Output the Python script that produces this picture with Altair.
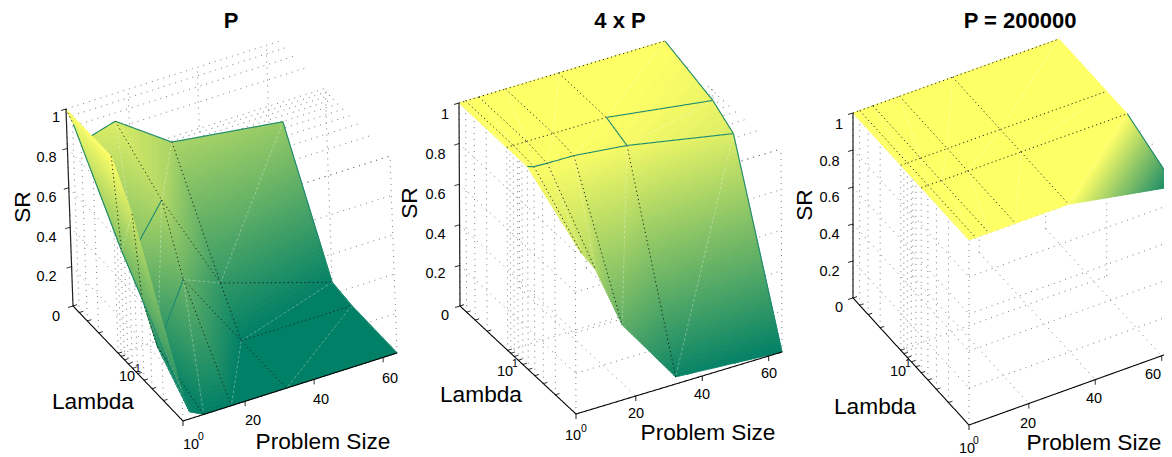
import math
import altair as alt

# ---------- data ----------
SIZES = [2, 4, 8, 16, 32, 64]
LAMBDAS = [50, 10, 5, 1]          # far row first
SIZE_TICKS = [20, 40, 60]
LAMBDA_TICKS = [1, 2, 3, 4, 5, 6, 7, 8, 9, 10, 20, 30, 40, 50]
SR_TICKS = [0, 0.2, 0.4, 0.6, 0.8, 1]
SR_LABELS = ["0", "0.2", "0.4", "0.6", "0.8", "1"]
TITLES = ["P", "4 x P", "P = 200000"]

SR_P = [
    [1.00, 0.91, 0.82, 0.86, 0.665, 0.59],
    [1.00, 0.51, 0.50, 0.70, 0.19, 0.015],
    [0.81, 0.37, 0.10, 0.40, 0.00, 0.00],
    [0.15, 0.035, 0.00, 0.00, 0.00, 0.00],
]
SR_4P = [
    [1.00, 1.00, 1.00, 1.00, 1.00, 1.00],
    [1.00, 1.00, 1.00, 1.00, 1.00, 0.926],
    [1.00, 0.99, 0.987, 0.985, 0.956, 0.857],
    [0.84, 0.78, 0.685, 0.37, 0.035, 0.00],
]
SR_200K = [
    [1.00, 1.00, 1.00, 1.00, 1.00, 1.00],
    [1.00, 1.00, 1.00, 1.00, 1.00, 1.00],
    [1.00, 1.00, 1.00, 1.00, 1.00, 1.00],
    [1.00, 1.00, 1.00, 1.00, 1.00, 0.89],
]

# ---------- view geometry of each 3-D box (page pixels) ----------
VIEWS = [
    dict(front=(183, 421), left=(73, 306), right=(397, 353), up=(-7, -197),
         sr=SR_P, cmin=0.0,
         teal=[("row", 0, 2, 5), ("col", 5, 0, 3), ("col", 1, 0, 3), ("row", 1, 2, 3), ("row", 2, 2, 3)]),
    dict(front=(576, 414), left=(460, 306), right=(782, 352), up=(-1, -203),
         sr=SR_4P, cmin=0.0,
         teal=[("col", 5, 0, 3), ("row", 2, 0, 5), ("row", 1, 4, 5), ("col", 4, 1, 2)]),
    dict(front=(969, 425), left=(853, 298), right=(1175, 351), up=(0, -185),
         sr=SR_200K, cmin=0.89,
         teal=[("col", 5, 2, 3)]),
]
LOG_LMAX = math.log10(50)
W, H = 1156, 449
OFF = 8
LEVELS = 64


def proj(v, s, lam, z):
    u = (s - 2) / 62
    t = math.log10(lam) / LOG_LMAX
    x = v["front"][0] + u * (v["right"][0] - v["front"][0]) + t * (v["left"][0] - v["front"][0]) + z * v["up"][0]
    y = v["front"][1] + u * (v["right"][1] - v["front"][1]) + t * (v["left"][1] - v["front"][1]) + z * v["up"][1]
    return [round(x - OFF, 2), round(y - OFF, 2)]


def summer(t):
    t = max(0.0, min(1.0, t))
    return "rgb(%d,%d,102)" % (round(255 * t), round(255 * (0.5 + 0.5 * t)))


features = []


def line(pts, stroke, width, dash):
    features.append({"type": "Feature", "geometry": {"type": "LineString", "coordinates": pts},
                     "fill": "transparent", "stroke": stroke, "sw": width, "dash": dash})


def poly(pts, color):
    features.append({"type": "Feature", "geometry": {"type": "Polygon", "coordinates": [pts + [pts[0]]]},
                     "fill": color, "stroke": color, "sw": 1.0, "dash": "solid"})


def grid(v):
    g = "#5a5a5a"
    for lam in LAMBDA_TICKS:                       # ceiling, along size; left wall verticals
        line([proj(v, 2, lam, 1), proj(v, 64, lam, 1)], g, 0.8, "grid")
        line([proj(v, 2, lam, 0), proj(v, 2, lam, 1)], g, 0.8, "grid")
    for z in SR_TICKS[1:]:
        line([proj(v, 2, 50, z), proj(v, 2, 1, z)], g, 0.8, "grid")
        line([proj(v, 2, 1, z), proj(v, 64, 1, z)], g, 0.8, "grid")
    line([proj(v, 2, 10, 0), proj(v, 64, 10, 0)], g, 0.8, "grid")
    for s in SIZE_TICKS:
        line([proj(v, s, 50, 0), proj(v, s, 1, 0)], g, 0.8, "grid")
        line([proj(v, s, 50, 0), proj(v, s, 50, 1)], g, 0.8, "grid")
    for lam in [10, 1]:
        line([proj(v, 64, lam, 0), proj(v, 64, lam, 1)], g, 0.8, "grid")


def axes(v):
    k = "#000000"
    line([proj(v, 2, 50, 0), proj(v, 2, 50, 1)], "#222222", 1.2, "solid")
    line([proj(v, 2, 50, 0), proj(v, 2, 1, 0)], k, 1.1, "solid")
    line([proj(v, 2, 1, 0), proj(v, 64, 1, 0)], k, 1.1, "solid")
    for z in SR_TICKS:
        a = proj(v, 2, 50, z)
        line([a, [a[0] - 5, a[1] + 1.5]], k, 0.9, "solid")
    for s in SIZE_TICKS + [2]:
        a = proj(v, s, 1, 0)
        line([a, [a[0], a[1] + 5]], k, 0.9, "solid")
    for lam in LAMBDA_TICKS[1:]:
        a = proj(v, 2, lam, 0)
        line([a, [a[0] + 4, a[1] - 1.3]], k, 0.9, "solid")


def clip_band(tri_pts, lo, hi):
    """Part of a triangle with lo <= sr <= hi; points are (size, log lambda, sr)."""
    def clip(pts, keep, bound):
        out = []
        for i, p in enumerate(pts):
            q = pts[(i + 1) % len(pts)]
            kp, kq = keep(p[2]), keep(q[2])
            if kp:
                out.append(p)
            if kp != kq:
                f = (bound - p[2]) / (q[2] - p[2])
                out.append(tuple(p[m] + f * (q[m] - p[m]) for m in range(3)))
        return out
    pts = clip(list(tri_pts), lambda z: z >= lo, lo)
    if pts:
        pts = clip(pts, lambda z: z <= hi, hi)
    return pts


def surface(v):
    sr = v["sr"]
    cmin = v["cmin"]
    ns, nl = len(SIZES), len(LAMBDAS)
    step = (1 - cmin) / LEVELS

    def tri(a, b, c):
        zs = [a[2], b[2], c[2]]
        zlo, zhi = min(zs), max(zs)
        if zhi - zlo < 1e-9:
            poly([proj(v, p[0], 10 ** p[1], p[2]) for p in (a, b, c)], summer((zlo - cmin) / (1 - cmin)))
            return
        k0 = int((zlo - cmin) / step)
        k1 = int(math.ceil((zhi - cmin) / step))
        for k in range(k0, k1):
            lo, hi = cmin + k * step, cmin + (k + 1) * step
            pts = clip_band((a, b, c), lo, hi)
            if len(pts) >= 3:
                poly([proj(v, p[0], 10 ** p[1], p[2]) for p in pts], summer((k + 0.5) / LEVELS))

    def V(i, j):
        return (SIZES[i], math.log10(LAMBDAS[j]), sr[j][i])

    def is_teal(kind, idx, a):
        for tk, ti, t0, t1 in v["teal"]:
            if tk == kind and ti == idx and t0 <= a < t1:
                return True
        return False

    def edge(p, q, kind, idx, a, dotted):
        pp = proj(v, p[0], 10 ** p[1], p[2])
        qq = proj(v, q[0], 10 ** q[1], q[2])
        if is_teal(kind, idx, a):
            line([pp, qq], "#1d8a72", 1.1, "solid")
        elif dotted:
            line([pp, qq], "#111111", 0.9, "mesh")

    for j in range(nl - 1):
        for i in range(ns - 2, -1, -1):
            a, b, c, d = V(i, j), V(i + 1, j), V(i + 1, j + 1), V(i, j + 1)
            tri(a, b, d)
            tri(b, c, d)
            qb = proj(v, b[0], 10 ** b[1], b[2])
            qd = proj(v, d[0], 10 ** d[1], d[2])
            line([qb, qd], "rgba(255,255,255,0.45)", 0.7, "diag")
            edge(a, b, "row", j, i, True)
            if j == nl - 2:
                edge(d, c, "row", j + 1, i, False)
            edge(b, c, "col", i + 1, j, i + 1 < ns - 1)
            if i == 0:
                edge(a, d, "col", 0, j, False)


for v in VIEWS:
    grid(v)
for v in VIEWS:
    surface(v)
    axes(v)

# ---------- text (page pixels) ----------
texts = []


def T(s, x, y, size, bold=False, angle=0):
    texts.append({"t": s, "x": x - OFF, "y": y - OFF, "size": size,
                  "w": "bold" if bold else "normal", "a": angle})


def panel_text(title, tx, ty, ztx, zy, sr_xy, lam_xy, ps_xy, st, e0, e1):
    T(title, tx, ty, 22, True)
    for lab, yy in zip(SR_LABELS, zy):
        T(lab, ztx - (9.5 if len(lab) > 1 else 0), yy, 14.5)
    T("SR", sr_xy[0], sr_xy[1], 22.7, False, 270)
    T("Lambda", lam_xy[0], lam_xy[1], 22.7)
    T("Problem Size", ps_xy[0], ps_xy[1], 22.7)
    for lab, p in zip(["20", "40", "60"], st):
        T(lab, p[0], p[1], 14.5)
    T("10", e0[0], e0[1], 14.5)
    T("0", e0[2], e0[3], 10.5)
    T("10", e1[0], e1[1], 14.5)
    T("1", e1[2], e1[3], 10.5)


panel_text("P", 231, 21, 56, [317, 277, 238, 198, 158, 118], (23, 207), (93, 402), (323, 442),
           [(253, 421), (321, 400), (390, 379)], (191, 445, 201, 437), (127, 377, 138, 369))
panel_text("4 x P", 620, 21, 445, [316, 274, 235, 195, 155, 115], (410, 203), (481, 395), (708, 433),
           [(636, 414), (702, 395), (769, 374)], (573, 436, 584, 429), (505, 372, 515, 364))
panel_text("P = 200000", 1020, 21, 839, [308, 272, 235, 198, 162, 125], (805, 205), (875, 407), (1094, 443),
           [(1028, 424), (1094, 399), (1153, 375)], (967, 449, 976, 441), (898, 372, 908, 364))

shapes = alt.Chart(alt.Data(values=features)).mark_geoshape().encode(
    fill=alt.Fill("fill:N", scale=None),
    stroke=alt.Stroke("stroke:N", scale=None),
    strokeWidth=alt.StrokeWidth("sw:Q", scale=None),
    strokeDash=alt.StrokeDash("dash:N", scale=alt.Scale(domain=["solid", "grid", "mesh", "diag"],
                                                         range=[[1, 0], [1, 5], [1.2, 3], [3, 2]]), legend=None),
).project(type="identity", scale=1, translate=[0, 0])

xs = alt.X("x:Q", scale=alt.Scale(domain=[0, W], range=[0, W]), axis=None)
ys = alt.Y("y:Q", scale=alt.Scale(domain=[0, H], range=[0, H]), axis=None)

layers = [shapes]
for angle in [0, 270]:
    for weight in ["normal", "bold"]:
        rows = [r for r in texts if r["a"] == angle and r["w"] == weight]
        if rows:
            layers.append(alt.Chart(alt.Data(values=rows)).mark_text(
                font="Liberation Sans", fontWeight=weight, angle=angle, color="#000000",
                align="center", baseline="middle").encode(
                x=xs, y=ys, text="t:N", size=alt.Size("size:Q", scale=None, legend=None)))

chart = alt.layer(*layers).properties(
    width=W, height=H, padding=0, autosize=alt.AutoSizeParams(type="none")
).configure_view(strokeWidth=0)

chart.save("out.html", embed_options={"renderer": "svg", "actions": False})
